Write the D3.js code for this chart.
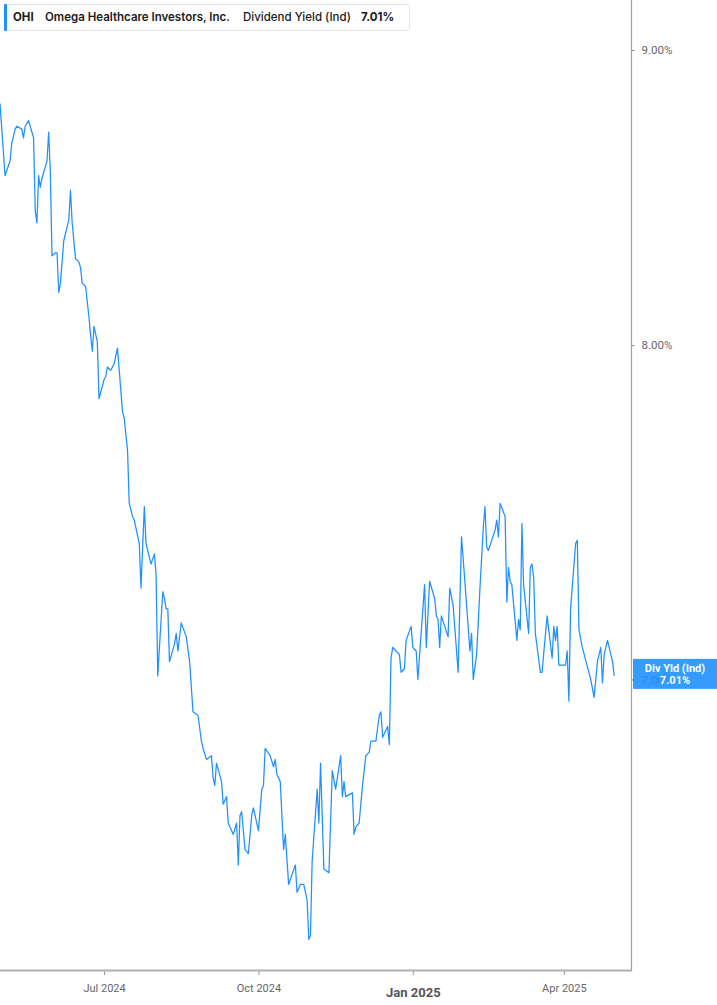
<!DOCTYPE html>
<html>
<head>
<meta charset="utf-8">
<script src="https://cdn.jsdelivr.net/npm/d3@7"></script>
<style>
  html, body { margin: 0; padding: 0; background: #fff; }
  svg { display: block; }
</style>
</head>
<body>
<div id="chart"></div>
<script>
// ---- Data ----
const ticker = "OHI";
const companyName = "Omega Healthcare Investors, Inc.";
const metricName = "Dividend Yield (Ind)";
const metricShort = "Div Yld (Ind)";

const dates = [
  "2024-04-30","2024-05-03","2024-05-06","2024-05-07","2024-05-09","2024-05-10","2024-05-13","2024-05-14","2024-05-15","2024-05-17",
  "2024-05-20","2024-05-21","2024-05-22","2024-05-23","2024-05-24","2024-05-25","2024-05-28","2024-05-29","2024-05-30","2024-05-31",
  "2024-06-02","2024-06-03","2024-06-04","2024-06-05","2024-06-07","2024-06-10","2024-06-11","2024-06-12","2024-06-14","2024-06-16",
  "2024-06-17","2024-06-18","2024-06-20","2024-06-22","2024-06-23","2024-06-24","2024-06-25","2024-06-27","2024-06-28","2024-07-01",
  "2024-07-02","2024-07-03","2024-07-05","2024-07-07","2024-07-09","2024-07-12","2024-07-13","2024-07-15","2024-07-16","2024-07-18",
  "2024-07-19","2024-07-22","2024-07-23","2024-07-25","2024-07-26","2024-07-29","2024-07-31","2024-08-01","2024-08-02","2024-08-05",
  "2024-08-06","2024-08-07","2024-08-08","2024-08-09","2024-08-12","2024-08-13","2024-08-14","2024-08-16","2024-08-19","2024-08-21",
  "2024-08-23","2024-08-26","2024-08-28","2024-08-29","2024-08-31","2024-09-03","2024-09-04","2024-09-05","2024-09-06","2024-09-09",
  "2024-09-10","2024-09-12","2024-09-13","2024-09-16","2024-09-18","2024-09-19","2024-09-20","2024-09-21","2024-09-23","2024-09-25",
  "2024-09-27","2024-09-28","2024-10-01","2024-10-03","2024-10-04","2024-10-05","2024-10-08","2024-10-10","2024-10-11","2024-10-12",
  "2024-10-14","2024-10-16","2024-10-17","2024-10-19","2024-10-23","2024-10-24","2024-10-26","2024-10-28","2024-10-30","2024-10-31",
  "2024-11-01","2024-11-02","2024-11-05","2024-11-06","2024-11-07","2024-11-09","2024-11-12","2024-11-14","2024-11-16","2024-11-19",
  "2024-11-20","2024-11-21","2024-11-22","2024-11-26","2024-11-27","2024-11-28","2024-11-30","2024-12-02","2024-12-04","2024-12-06",
  "2024-12-07","2024-12-10","2024-12-12","2024-12-13","2024-12-14","2024-12-17","2024-12-18","2024-12-19","2024-12-20","2024-12-24",
  "2024-12-25","2024-12-27","2024-12-28","2024-12-31","2025-01-01","2025-01-03","2025-01-04","2025-01-08","2025-01-09","2025-01-11",
  "2025-01-14","2025-01-15","2025-01-16","2025-01-17","2025-01-18","2025-01-22","2025-01-23","2025-01-25","2025-01-28","2025-01-30",
  "2025-02-01","2025-02-04","2025-02-05","2025-02-06","2025-02-08","2025-02-10","2025-02-12","2025-02-13","2025-02-14","2025-02-15",
  "2025-02-19","2025-02-20","2025-02-21","2025-02-22","2025-02-25","2025-02-26","2025-02-27","2025-02-28","2025-03-01","2025-03-04",
  "2025-03-05","2025-03-06","2025-03-07","2025-03-08","2025-03-11","2025-03-12","2025-03-13","2025-03-14","2025-03-15","2025-03-18",
  "2025-03-19","2025-03-22","2025-03-25","2025-03-26","2025-03-27","2025-03-28","2025-03-29","2025-04-02","2025-04-03","2025-04-04",
  "2025-04-05","2025-04-08","2025-04-09","2025-04-10","2025-04-12","2025-04-17","2025-04-19","2025-04-21","2025-04-23","2025-04-24",
  "2025-04-25","2025-04-27","2025-04-30","2025-05-01"
];

const yieldValues = [
  8.81,8.56,8.61,8.67,8.72,8.73,8.72,8.69,8.73,8.75,
  8.69,8.44,8.40,8.56,8.52,8.55,8.61,8.71,8.57,8.29,
  8.30,8.30,8.17,8.20,8.34,8.41,8.51,8.40,8.28,8.27,
  8.25,8.20,8.19,8.09,8.03,7.98,8.06,8.01,7.83,7.89,
  7.90,7.93,7.92,7.94,7.99,7.79,7.77,7.67,7.51,7.47,
  7.46,7.39,7.26,7.50,7.39,7.33,7.36,7.30,7.01,7.25,
  7.23,7.20,7.20,7.05,7.10,7.13,7.08,7.16,7.12,7.05,
  6.91,6.90,6.83,6.81,6.78,6.79,6.73,6.71,6.77,6.72,
  6.66,6.68,6.61,6.58,6.61,6.50,6.63,6.64,6.54,6.53,
  6.63,6.65,6.59,6.70,6.71,6.81,6.79,6.76,6.78,6.74,
  6.72,6.54,6.58,6.45,6.50,6.43,6.45,6.45,6.41,6.31,
  6.32,6.51,6.70,6.61,6.77,6.49,6.48,6.75,6.70,6.79,
  6.68,6.72,6.68,6.69,6.58,6.60,6.61,6.71,6.79,6.80,
  6.83,6.83,6.90,6.91,6.84,6.87,6.82,7.06,7.09,7.07,
  7.02,7.03,7.11,7.15,7.09,7.08,7.00,7.27,7.09,7.28,
  7.23,7.18,7.17,7.09,7.18,7.12,7.26,7.21,7.02,7.41,
  7.28,7.08,7.13,7.00,7.07,7.26,7.44,7.50,7.38,7.37,
  7.43,7.46,7.41,7.51,7.47,7.22,7.32,7.28,7.27,7.11,
  7.17,7.14,7.45,7.27,7.13,7.32,7.33,7.29,7.13,7.02,
  7.02,7.18,7.06,7.15,7.11,7.15,7.04,7.04,7.08,6.94,
  7.20,7.39,7.40,7.14,7.09,7.00,6.95,7.05,7.09,6.99,
  7.07,7.11,7.05,7.01
];

const xDomain = ["2024-04-30", "2025-05-11"];
const xTickDates = ["2024-07-01", "2024-10-01", "2025-01-01", "2025-04-01"];
const xTickLabels = ["Jul 2024", "Oct 2024", "Jan 2025", "Apr 2025"];
const xTickBold = [false, false, true, false];
const yTicks = [7, 8, 9];
const lastValue = 7.01;

// ---- Layout ----
const W = 717, H = 1005;
const plotW = 631, plotH = 970;
const blue = "#1e90ff";

const parse = d3.utcParse("%Y-%m-%d");
const data = dates.map((d, i) => ({ date: parse(d), value: yieldValues[i] }));

const x = d3.scaleUtc().domain(xDomain.map(parse)).range([0, plotW]);
const y = d3.scaleLog().domain([8, 9]).range([345, 50]);

const svg = d3.select("#chart").append("svg")
  .attr("width", W).attr("height", H);

svg.append("defs").append("clipPath").attr("id", "plotClip")
  .append("rect").attr("x", 0).attr("y", 0).attr("width", plotW).attr("height", plotH);

// line
const line = d3.line().x(d => x(d.date)).y(d => y(d.value));
svg.append("g").attr("clip-path", "url(#plotClip)")
  .append("path").datum(data)
  .attr("d", line)
  .attr("fill", "none")
  .attr("stroke", blue)
  .attr("stroke-width", 1.25)
  .attr("stroke-linejoin", "round");

// right axis
const rightAxis = d3.axisRight(y).tickValues(yTicks)
  .tickFormat(d => d3.format(".2f")(d) + "%")
  .tickSize(3).tickPadding(7);
const gR = svg.append("g").attr("transform", `translate(${plotW + 0.5},0)`).call(rightAxis);
gR.select(".domain").remove();
gR.selectAll(".tick line").attr("stroke", "#888");
gR.selectAll(".tick text")
  .attr("fill", "#666")
  .style("font-family", "Roboto, 'Noto Sans', sans-serif")
  .style("font-size", "11.5px");
svg.append("line")
  .attr("x1", plotW + 0.5).attr("x2", plotW + 0.5)
  .attr("y1", 0).attr("y2", plotH + 1)
  .attr("stroke", "#a0a0a0").attr("stroke-width", 1.2);

// bottom axis
const bottomAxis = d3.axisBottom(x).tickValues(xTickDates.map(parse))
  .tickFormat((d, i) => xTickLabels[i]).tickSize(5).tickPadding(9);
const gB = svg.append("g").attr("transform", `translate(0,${plotH})`).call(bottomAxis);
gB.select(".domain").remove();
gB.selectAll(".tick line").attr("stroke", "#999");
gB.selectAll(".tick text")
  .attr("fill", (d, i) => xTickBold[i] ? "#555" : "#666")
  .style("font-family", "Roboto, 'Noto Sans', sans-serif")
  .style("font-size", (d, i) => xTickBold[i] ? "13px" : "11px")
  .style("font-weight", (d, i) => xTickBold[i] ? "700" : "400")
  .attr("dy", (d, i) => xTickBold[i] ? "1.0em" : "0.71em");
svg.append("line")
  .attr("x1", 0).attr("x2", plotW + 1)
  .attr("y1", plotH + 0.5).attr("y2", plotH + 0.5)
  .attr("stroke", "#b0b0b0").attr("stroke-width", 2);

// last value label box
const ly = y(lastValue);
const lab = svg.append("g");
lab.append("rect")
  .attr("x", plotW + 2).attr("y", ly - 17)
  .attr("width", W - plotW - 2).attr("height", 30)
  .attr("fill", blue).attr("fill-opacity", 0.9);
lab.append("text")
  .attr("x", (plotW + 2 + W) / 2).attr("y", ly - 4)
  .attr("text-anchor", "middle")
  .attr("fill", "#fff")
  .style("font-family", "Roboto, 'Noto Sans', sans-serif")
  .style("font-size", "11px").style("font-weight", "700")
  .text(metricShort);
lab.append("text")
  .attr("x", (plotW + 2 + W) / 2).attr("y", ly + 8)
  .attr("text-anchor", "middle")
  .attr("fill", "#fff")
  .style("font-family", "Roboto, 'Noto Sans', sans-serif")
  .style("font-size", "11px").style("font-weight", "700")
  .text(d3.format(".2f")(lastValue) + "%");

// legend
const lg = svg.append("g");
lg.append("rect")
  .attr("x", 4.5).attr("y", 4.5).attr("width", 405).attr("height", 26)
  .attr("rx", 3).attr("fill", "#fff").attr("stroke", "#e6e6e6");
lg.append("rect")
  .attr("x", 4).attr("y", 4).attr("width", 3).attr("height", 27)
  .attr("rx", 1).attr("fill", blue);
const legendItems = [
  { t: ticker, x: 13, w: 700 },
  { t: companyName, x: 45, w: 600 },
  { t: metricName, x: 243, w: 500 },
  { t: d3.format(".2f")(lastValue) + "%", x: 361, w: 700 }
];
lg.selectAll("text.leg").data(legendItems).join("text")
  .attr("class", "leg")
  .attr("x", d => d.x).attr("y", 21)
  .attr("fill", "#1a1a1a")
  .style("font-family", "Inter, Roboto, sans-serif")
  .style("font-size", "11.5px")
  .style("font-weight", d => d.w)
  .text(d => d.t);
</script>
</body>
</html>
